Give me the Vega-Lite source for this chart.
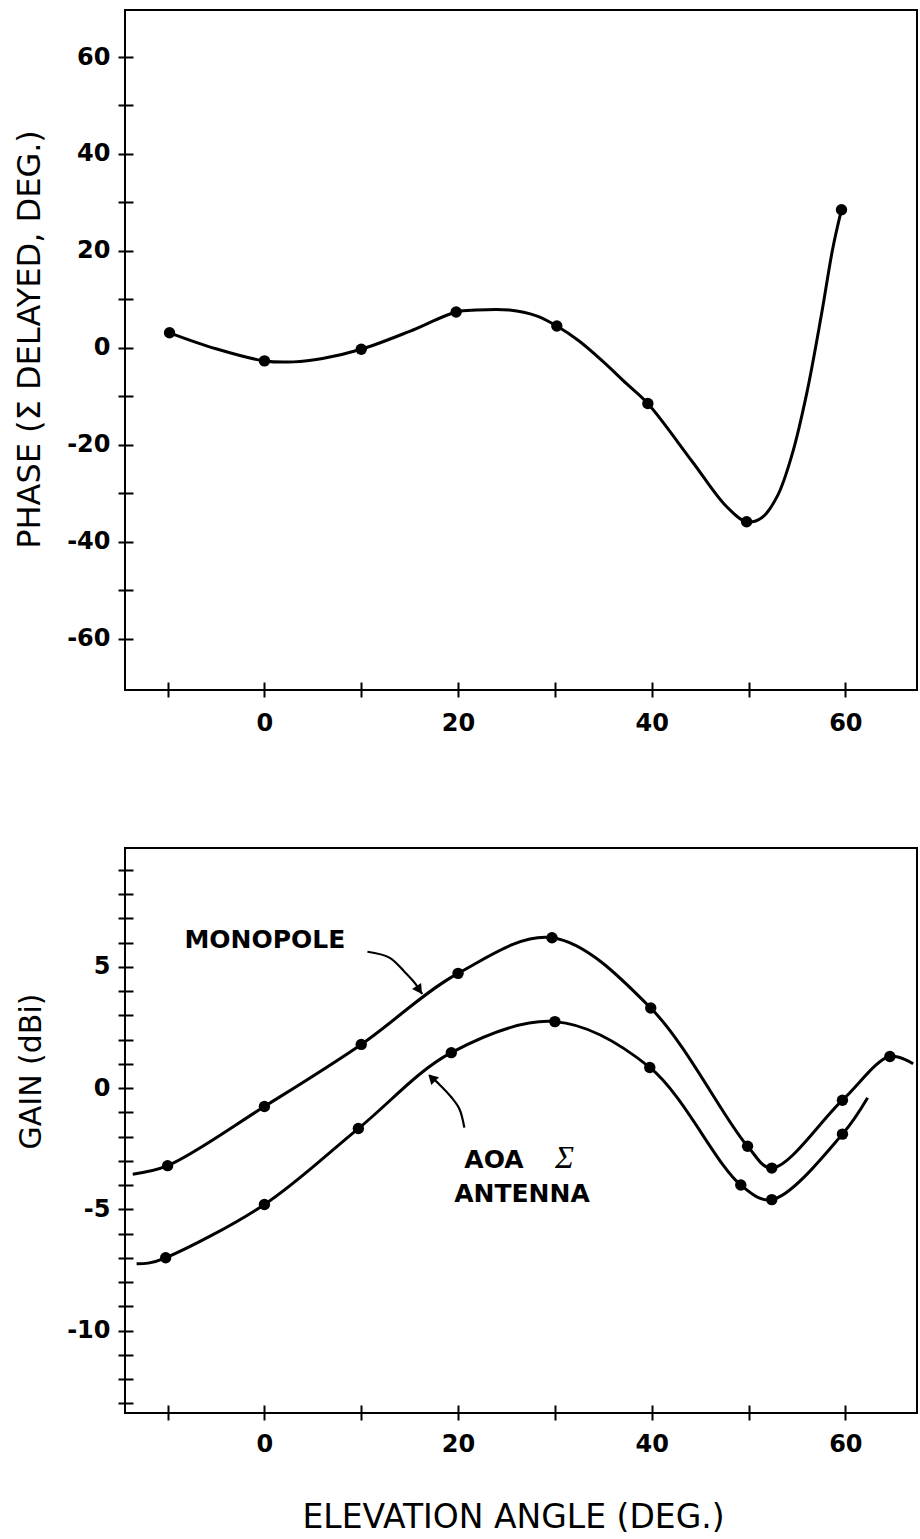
{
  "$schema": "https://vega.github.io/schema/vega-lite/v6.json",
  "background": "white",
  "padding": {"left": 12, "top": 9, "right": 2, "bottom": 0},
  "bounds": "flush",
  "spacing": 158,
  "config": {
    "view": {"stroke": "black", "strokeWidth": 2},
    "font": "DejaVu Sans",
    "axis": {
      "domain": false, "grid": false, "offset": -8,
      "tickColor": "black", "tickWidth": 2, "tickSize": 15,
      "labelFont": "DejaVu Sans", "labelFontWeight": "bold", "labelFontSize": 24, "labelColor": "black",
      "titleFont": "DejaVu Sans", "titleFontWeight": "normal", "titleColor": "black"
    }
  },
  "resolve": {"scale": {"x": "independent", "y": "independent"}},
  "datasets": {
    "phase": [
      {"elev": -9.8, "phase": 3.1, "dot": true},
      {"elev": -5, "phase": -0.2, "dot": false},
      {"elev": 0, "phase": -2.7, "dot": true},
      {"elev": 3, "phase": -2.9, "dot": false},
      {"elev": 6, "phase": -2.2, "dot": false},
      {"elev": 10, "phase": -0.3, "dot": true},
      {"elev": 15, "phase": 3.4, "dot": false},
      {"elev": 19.8, "phase": 7.4, "dot": true},
      {"elev": 21.9, "phase": 7.8, "dot": false},
      {"elev": 25.3, "phase": 7.8, "dot": false},
      {"elev": 28.1, "phase": 6.6, "dot": false},
      {"elev": 30.2, "phase": 4.5, "dot": true},
      {"elev": 32.5, "phase": 1.4, "dot": false},
      {"elev": 34.9, "phase": -2.7, "dot": false},
      {"elev": 37.4, "phase": -7.4, "dot": false},
      {"elev": 39.6, "phase": -11.5, "dot": true},
      {"elev": 44.2, "phase": -23.5, "dot": false},
      {"elev": 47.7, "phase": -32.7, "dot": false},
      {"elev": 49.8, "phase": -35.9, "dot": true},
      {"elev": 51.4, "phase": -35, "dot": false},
      {"elev": 53.0, "phase": -30.5, "dot": false},
      {"elev": 54.5, "phase": -22, "dot": false},
      {"elev": 56.0, "phase": -9.5, "dot": false},
      {"elev": 57.5, "phase": 6.5, "dot": false},
      {"elev": 58.7, "phase": 20.5, "dot": false},
      {"elev": 59.6, "phase": 28.5, "dot": true}
    ],
    "gain": [
      {"series": "MONOPOLE", "elev": -13.6, "gain": -3.55, "dot": false},
      {"series": "MONOPOLE", "elev": -10, "gain": -3.2, "dot": true},
      {"series": "MONOPOLE", "elev": 0, "gain": -0.76, "dot": true},
      {"series": "MONOPOLE", "elev": 10, "gain": 1.8, "dot": true},
      {"series": "MONOPOLE", "elev": 20, "gain": 4.73, "dot": true},
      {"series": "MONOPOLE", "elev": 29.7, "gain": 6.2, "dot": true},
      {"series": "MONOPOLE", "elev": 39.9, "gain": 3.3, "dot": true},
      {"series": "MONOPOLE", "elev": 49.9, "gain": -2.4, "dot": true},
      {"series": "MONOPOLE", "elev": 52.4, "gain": -3.3, "dot": true},
      {"series": "MONOPOLE", "elev": 59.7, "gain": -0.5, "dot": true},
      {"series": "MONOPOLE", "elev": 64.6, "gain": 1.3, "dot": true},
      {"series": "MONOPOLE", "elev": 67, "gain": 1.0, "dot": false},
      {"series": "AOA", "elev": -13.2, "gain": -7.25, "dot": false},
      {"series": "AOA", "elev": -12, "gain": -7.22, "dot": false},
      {"series": "AOA", "elev": -10.2, "gain": -7.0, "dot": true},
      {"series": "AOA", "elev": 0, "gain": -4.8, "dot": true},
      {"series": "AOA", "elev": 9.7, "gain": -1.67, "dot": true},
      {"series": "AOA", "elev": 19.3, "gain": 1.46, "dot": true},
      {"series": "AOA", "elev": 30, "gain": 2.74, "dot": true},
      {"series": "AOA", "elev": 39.8, "gain": 0.85, "dot": true},
      {"series": "AOA", "elev": 49.2, "gain": -4.0, "dot": true},
      {"series": "AOA", "elev": 52.4, "gain": -4.6, "dot": true},
      {"series": "AOA", "elev": 59.7, "gain": -1.9, "dot": true},
      {"series": "AOA", "elev": 62.3, "gain": -0.4, "dot": false}
    ],
    "arrows": [
      {"arrow": "a1", "elev": 10.64, "gain": 5.62},
      {"arrow": "a1", "elev": 12.9, "gain": 5.38},
      {"arrow": "a1", "elev": 14.46, "gain": 4.8},
      {"arrow": "a1", "elev": 15.5, "gain": 4.35},
      {"arrow": "a1", "elev": 16.3, "gain": 3.88},
      {"arrow": "a2", "elev": 17.04, "gain": 0.52},
      {"arrow": "a2", "elev": 18.07, "gain": 0.15},
      {"arrow": "a2", "elev": 19.31, "gain": -0.38},
      {"arrow": "a2", "elev": 20.14, "gain": -0.86},
      {"arrow": "a2", "elev": 20.65, "gain": -1.63}
    ],
    "heads": [
      {"arrow": "a1", "elev": 15.9, "gain": 4.1},
      {"arrow": "a2", "elev": 17.4, "gain": 0.38}
    ],
    "notes": [
      {"kind": "sans", "text": "MONOPOLE", "elev": -8.26, "gain": 6.1},
      {"kind": "sans", "text": "AOA", "elev": 20.65, "gain": -2.96},
      {"kind": "sans", "text": "ANTENNA", "elev": 19.6, "gain": -4.35},
      {"kind": "serif", "text": "Σ", "elev": 31.0, "gain": -2.9}
    ]
  },
  "vconcat": [
    {
      "width": 792,
      "height": 680,
      "data": {"name": "phase"},
      "encoding": {
        "x": {
          "field": "elev", "type": "quantitative",
          "scale": {"domain": [-14.4, 67.4], "nice": false, "zero": false},
          "axis": {
            "values": [-10, 0, 10, 20, 30, 40, 50, 60],
            "labelExpr": "datum.value % 20 === 0 ? (datum.value < 0 ? '-' + abs(datum.value) : '' + datum.value) : ''",
            "title": null, "labelPadding": 14
          }
        },
        "y": {
          "field": "phase", "type": "quantitative",
          "scale": {"domain": [-70.6, 69.7], "nice": false, "zero": false},
          "axis": {
            "values": [-60, -50, -40, -30, -20, -10, 0, 10, 20, 30, 40, 50, 60],
            "labelExpr": "datum.value % 20 === 0 ? (datum.value < 0 ? '-' + abs(datum.value) : '' + datum.value) : ''",
            "labelPadding": 8,
            "title": "PHASE  (Σ DELAYED, DEG.)",
            "titleFontSize": 32, "titlePadding": 20, "titleY": 329
          }
        }
      },
      "layer": [
        {"mark": {"type": "line", "interpolate": "catmull-rom", "color": "black", "strokeWidth": 3}},
        {"transform": [{"filter": "datum.dot"}], "mark": {"type": "point", "filled": true, "color": "black", "opacity": 1, "size": 130}}
      ]
    },
    {
      "width": 792,
      "height": 565,
      "encoding": {
        "x": {
          "field": "elev", "type": "quantitative",
          "scale": {"domain": [-14.4, 67.4], "nice": false, "zero": false},
          "axis": {
            "values": [-10, 0, 10, 20, 30, 40, 50, 60],
            "labelExpr": "datum.value % 20 === 0 ? (datum.value < 0 ? '-' + abs(datum.value) : '' + datum.value) : ''",
            "labelPadding": 12,
            "title": "ELEVATION ANGLE (DEG.)",
            "titleFontSize": 33, "titlePadding": 45, "titleX": 388
          }
        },
        "y": {
          "field": "gain", "type": "quantitative",
          "scale": {"domain": [-13.4, 9.9], "nice": false, "zero": false},
          "axis": {
            "values": [-13, -12, -11, -10, -9, -8, -7, -6, -5, -4, -3, -2, -1, 0, 1, 2, 3, 4, 5, 6, 7, 8, 9],
            "labelExpr": "datum.value % 5 === 0 ? (datum.value < 0 ? '-' + abs(datum.value) : '' + datum.value) : ''",
            "labelPadding": 8,
            "title": "GAIN (dBi)",
            "titleFontSize": 30, "titlePadding": 20, "titleY": 223
          }
        }
      },
      "layer": [
        {"data": {"name": "gain"}, "mark": {"type": "line", "interpolate": "catmull-rom", "color": "black", "strokeWidth": 3}, "encoding": {"detail": {"field": "series"}}},
        {"data": {"name": "gain"}, "transform": [{"filter": "datum.dot"}], "mark": {"type": "point", "filled": true, "color": "black", "opacity": 1, "size": 130}},
        {"data": {"name": "arrows"}, "mark": {"type": "line", "interpolate": "catmull-rom", "color": "black", "strokeWidth": 2.2}, "encoding": {"detail": {"field": "arrow"}}},
        {"data": {"name": "heads"}, "transform": [{"filter": "datum.arrow === 'a1'"}], "mark": {"type": "point", "shape": "triangle", "angle": 146, "filled": true, "color": "black", "opacity": 1, "size": 120}},
        {"data": {"name": "heads"}, "transform": [{"filter": "datum.arrow === 'a2'"}], "mark": {"type": "point", "shape": "triangle", "angle": 315, "filled": true, "color": "black", "opacity": 1, "size": 120}},
        {"data": {"name": "notes"}, "transform": [{"filter": "datum.kind === 'sans'"}], "mark": {"type": "text", "align": "left", "baseline": "middle", "font": "DejaVu Sans", "fontWeight": "bold", "fontSize": 25, "color": "black"}, "encoding": {"text": {"field": "text"}}},
        {"data": {"name": "notes"}, "transform": [{"filter": "datum.kind === 'serif'"}], "mark": {"type": "text", "align": "center", "baseline": "middle", "font": "Liberation Serif", "fontStyle": "italic", "fontSize": 32, "color": "black"}, "encoding": {"text": {"field": "text"}}}
      ]
    }
  ]
}
